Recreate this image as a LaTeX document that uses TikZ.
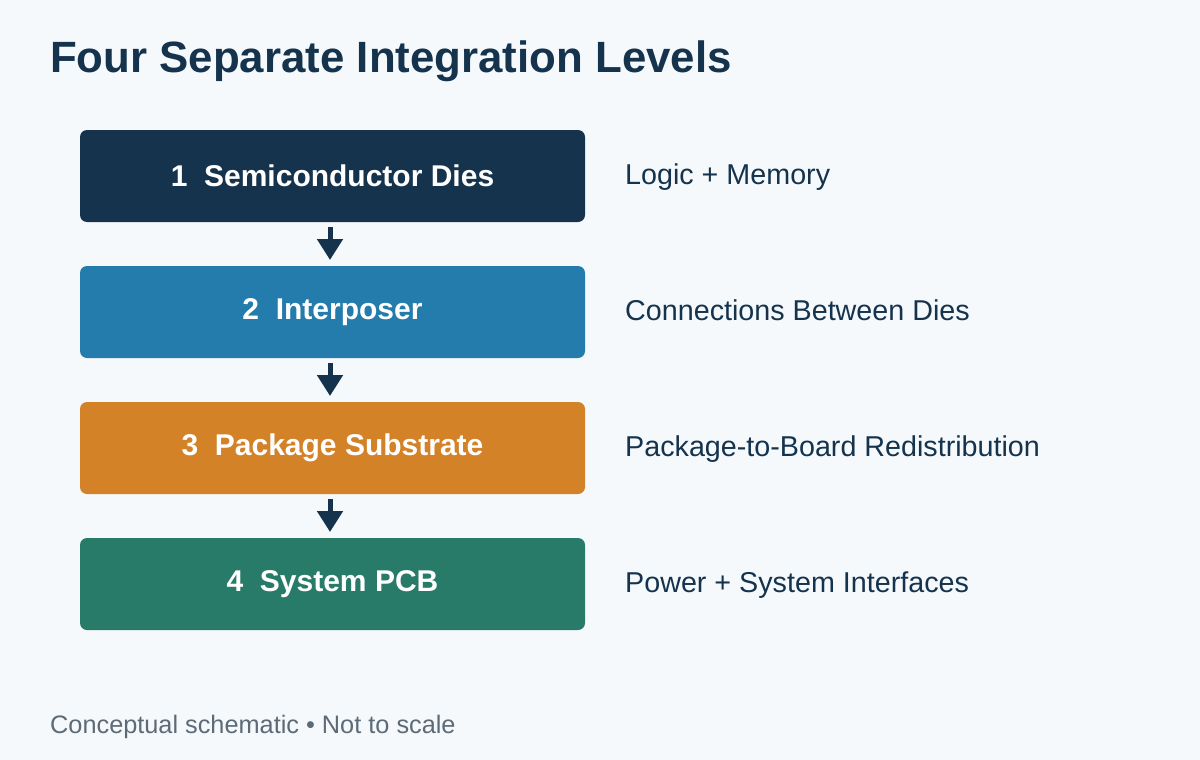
\documentclass[tikz,border=0pt]{standalone}
\usepackage{fontspec}
\setmainfont{Liberation Sans}
\usetikzlibrary{arrows.meta}
\definecolor{bg}{HTML}{F5F9FC}
\definecolor{navy}{HTML}{16334D}
\definecolor{blueb}{HTML}{237CAB}
\definecolor{orangeb}{HTML}{D48227}
\definecolor{greenb}{HTML}{287B68}
\definecolor{foot}{HTML}{5C6B77}
\tikzset{
  levelbox/.style={rounded corners=7pt, minimum width=505pt, minimum height=92pt, inner sep=0pt, text=white, font=\fontsize{30}{36}\selectfont\bfseries},
  sidelabel/.style={anchor=base west, inner sep=0pt, text=navy, font=\fontsize{28.7}{34}\selectfont},
  flowarrow/.style={draw=navy, line width=5pt, -{Triangle[width=25pt,length=21pt]}},
}
\begin{document}
\begin{tikzpicture}[x=1pt,y=-1pt]
\fill[bg] (0,0) rectangle (1200,760);
\useasboundingbox (0,0) rectangle (1200,760);
\node[anchor=base west, inner sep=0pt, text=navy, font=\fontsize{43.8}{50}\selectfont\bfseries] (title) at (50,73) {Four Separate Integration Levels};
\node[levelbox, fill=navy] (b1) at (332.5,176) {1\ \ Semiconductor Dies};
\node[levelbox, fill=blueb] (b2) at (332.5,312) {2\ \ Interposer};
\node[levelbox, fill=orangeb] (b3) at (332.5,448) {3\ \ Package Substrate};
\node[levelbox, fill=greenb] (b4) at (332.5,584) {4\ \ System PCB};
\node[sidelabel] (l1) at (625,184) {Logic + Memory};
\node[sidelabel] (l2) at (625,320) {Connections Between Dies};
\node[sidelabel] (l3) at (625,456) {Package-to-Board Redistribution};
\node[sidelabel] (l4) at (625,592) {Power + System Interfaces};
\coordinate (a1s) at (330,227); \coordinate (a1e) at (330,260);
\coordinate (a2s) at (330,363); \coordinate (a2e) at (330,396);
\coordinate (a3s) at (330,499); \coordinate (a3e) at (330,532);
\draw[flowarrow] (a1s) -- (a1e);
\draw[flowarrow] (a2s) -- (a2e);
\draw[flowarrow] (a3s) -- (a3e);
\node[anchor=base west, inner sep=0pt, text=foot, font=\fontsize{25.3}{30}\selectfont] (foot) at (50,733) {Conceptual schematic • Not to scale};
\end{tikzpicture}
\end{document}
